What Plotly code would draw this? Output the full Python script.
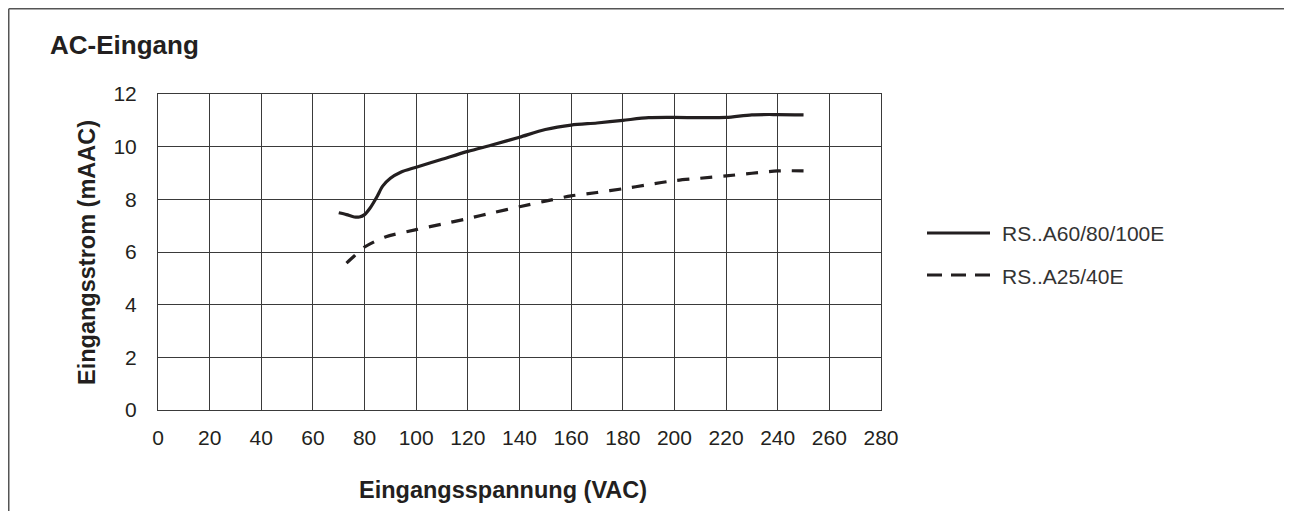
import plotly.graph_objects as go

# Data
solid_name = "RS..A60/80/100E"
solid_x = [70, 73, 76, 78, 80, 82, 84.8, 87, 90, 94, 100, 110, 120, 130, 140, 150, 160, 170, 180, 190, 200, 210, 220, 230, 240, 250]
solid_y = [7.49, 7.42, 7.33, 7.33, 7.42, 7.65, 8.1, 8.5, 8.8, 9.03, 9.22, 9.52, 9.82, 10.08, 10.36, 10.65, 10.82, 10.9, 11.0, 11.1, 11.11, 11.1, 11.11, 11.21, 11.22, 11.21]

dash_name = "RS..A25/40E"
dash_x = [73, 76, 80, 88, 100, 110, 120, 130, 140, 150, 160, 170, 180, 190, 200, 210, 220, 230, 240, 250]
dash_y = [5.58, 5.85, 6.19, 6.57, 6.85, 7.06, 7.27, 7.5, 7.72, 7.93, 8.13, 8.26, 8.4, 8.56, 8.71, 8.8, 8.89, 8.99, 9.08, 9.08]

x_ticks = list(range(0, 281, 20))
y_ticks = list(range(0, 13, 2))

title_text = "AC-Eingang"
x_title = "Eingangsspannung (VAC)"
y_title = "Eingangsstrom (mAAC)"

# page body has an 8px margin; positions below are in window pixels
OFF = 8
W, H = 1292, 511
L, T = 158 - OFF, 94 - OFF
PW, PH = 723, 316
R = W - L - PW
B = H - T - PH

def px(x):
    return (x - OFF - L) / PW

def py(y):
    return (T + PH - (y - OFF)) / PH

INK = "#231f20"
GRID = "#3a3a3a"
FONT = "Liberation Sans, Arial, sans-serif"

fig = go.Figure()
fig.add_trace(go.Scatter(x=solid_x, y=solid_y, mode="lines", name=solid_name,
                         line=dict(color=INK, width=3.2, shape="spline", smoothing=0.8),
                         showlegend=False))
fig.add_trace(go.Scatter(x=dash_x, y=dash_y, mode="lines", name=dash_name,
                         line=dict(color=INK, width=3.2, dash="12px,11px", shape="spline", smoothing=0.8),
                         showlegend=False))

shapes = []
fc = "#555555"
# outer frame (left, top, right)
shapes.append(dict(type="line", xref="paper", yref="paper", x0=px(OFF + 0.75), x1=px(OFF + 0.75), y0=py(OFF + 0.75), y1=py(530), line=dict(color=fc, width=1.5)))
shapes.append(dict(type="line", xref="paper", yref="paper", x0=px(OFF + 0.75), x1=px(1291), y0=py(OFF + 0.75), y1=py(OFF + 0.75), line=dict(color=fc, width=1.5)))
shapes.append(dict(type="line", xref="paper", yref="paper", x0=px(1291), x1=px(1291), y0=py(OFF + 0.75), y1=py(530), line=dict(color=fc, width=2)))
# legend samples
shapes.append(dict(type="line", xref="paper", yref="paper", x0=px(927), x1=px(990), y0=py(233), y1=py(233), line=dict(color=INK, width=3.2)))
shapes.append(dict(type="line", xref="paper", yref="paper", x0=px(927), x1=px(990), y0=py(275), y1=py(275), line=dict(color=INK, width=3.2, dash="15px,9px")))

annotations = [
    dict(text=f"<b>{title_text}</b>", xref="paper", yref="paper", x=px(48), y=py(45), xanchor="left", yanchor="middle",
         showarrow=False, font=dict(size=26, color=INK, family=FONT)),
    dict(text=f"<b>{x_title}</b>", xref="paper", yref="paper", x=px(503), y=py(490), xanchor="center", yanchor="middle",
         showarrow=False, font=dict(size=23.5, color=INK, family=FONT)),
    dict(text=f"<b>{y_title}</b>", xref="paper", yref="paper", x=px(87), y=py(253), xanchor="center", yanchor="middle",
         textangle=-90, showarrow=False, font=dict(size=23.5, color=INK, family=FONT)),
    dict(text=solid_name, xref="paper", yref="paper", x=px(1000), y=py(233), xanchor="left", yanchor="middle",
         showarrow=False, font=dict(size=21, color="#333333", family=FONT)),
    dict(text=dash_name, xref="paper", yref="paper", x=px(1000), y=py(276), xanchor="left", yanchor="middle",
         showarrow=False, font=dict(size=21, color="#333333", family=FONT)),
]

fig.update_layout(
    width=W, height=H,
    margin=dict(l=L, r=R, t=T, b=B, pad=0),
    paper_bgcolor="white", plot_bgcolor="white",
    font=dict(family=FONT, color=INK, size=21),
    showlegend=False,
    shapes=shapes,
    annotations=annotations,
)
fig.update_xaxes(range=[0, 280], tickvals=x_ticks, ticktext=[str(v) for v in x_ticks],
                 showgrid=True, gridcolor=GRID, gridwidth=1, zeroline=False,
                 showline=True, linecolor=GRID, linewidth=1, mirror=True,
                 ticks="", ticklabelstandoff=9, tickfont=dict(size=21, color=INK))
fig.update_yaxes(range=[0, 12], tickvals=y_ticks, ticktext=[str(v) for v in y_ticks],
                 showgrid=True, gridcolor=GRID, gridwidth=1, zeroline=False,
                 showline=True, linecolor=GRID, linewidth=1, mirror=True,
                 ticks="", ticklabelstandoff=16, tickfont=dict(size=21, color=INK))

fig.write_html("out.html")
